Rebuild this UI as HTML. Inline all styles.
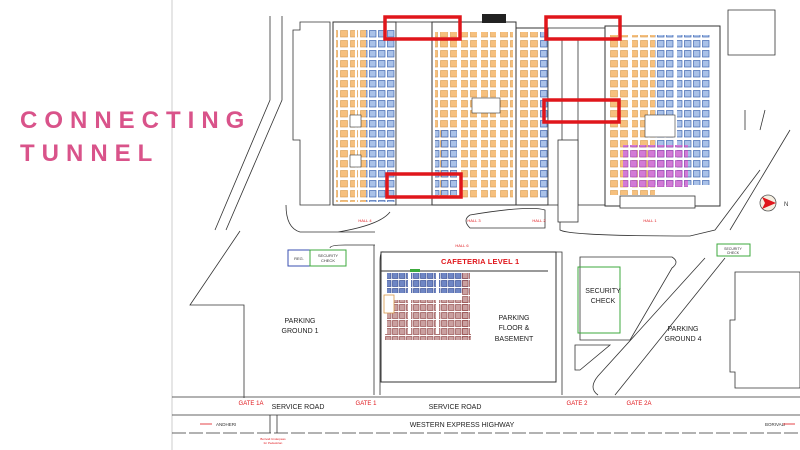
<!DOCTYPE html>
<html><head><meta charset="utf-8"><style>
body{margin:0;width:800px;height:450px;overflow:hidden;background:#fff}
svg{display:block}
</style></head><body>
<svg width="800" height="450" viewBox="0 0 800 450" xmlns="http://www.w3.org/2000/svg" font-family="Liberation Sans, sans-serif">
<defs>
<pattern id="or" width="10" height="10" patternUnits="userSpaceOnUse"><rect x="0.5" y="0.5" width="7" height="6.5" fill="#f6c07e" stroke="#d99a4a" stroke-width="0.6"/></pattern>
<pattern id="bl" width="9" height="10" patternUnits="userSpaceOnUse"><rect x="0.5" y="0.5" width="6.5" height="6.5" fill="#a9c1e8" stroke="#3f66b0" stroke-width="0.7"/></pattern>
<pattern id="mg" width="9" height="10" patternUnits="userSpaceOnUse"><rect x="0.5" y="0.5" width="6.5" height="6.5" fill="#d27ad6" stroke="#a040b0" stroke-width="0.6"/></pattern>
<pattern id="br" width="7" height="8" patternUnits="userSpaceOnUse"><rect x="0.5" y="0.5" width="5.5" height="6" fill="#c9a0a0" stroke="#8a3a3a" stroke-width="0.6"/></pattern>
<pattern id="nb" width="7" height="8" patternUnits="userSpaceOnUse"><rect x="0.5" y="0.5" width="5.5" height="6" fill="#6f86c4" stroke="#2a3f8a" stroke-width="0.6"/></pattern>
</defs>
<line x1="172" y1="0" x2="172" y2="450" stroke="#ccc" stroke-width="1"/>
<text x="20" y="128" font-size="24" fill="#d9538a" letter-spacing="7" font-weight="bold">CONNECTING</text>
<text x="20" y="161" font-size="24" fill="#d9538a" letter-spacing="7" font-weight="bold">TUNNEL</text>

<g fill="none" stroke="#333" stroke-width="0.8">
<polyline points="270,16 270,100 215,230"/>
<polyline points="282,16 282,100 226,230"/>
<polyline points="240,231 190,305 244,305 244,398"/>
<polygon points="300,22 330,22 330,205 300,205 300,140 293,140 293,30 300,30"/>
<path d="M286,205 Q286,228 300,232 L375,232 M338,232 Q380,225 390,212 M470,215 Q530,205 545,210 L545,228 L470,228 Q462,220 470,215"/>
<path d="M560,212 L560,230 Q570,236 690,236 L715,230 L760,170 M790,130 L730,230"/>
<path d="M330,248 Q330,245 345,245 L375,245 M374,245 L374,395"/>
<path d="M384,252 Q380,250 380,262 L380,395 M550,252 L562,252 Q562,260 562,395"/>
<polygon points="735,272 800,272 800,388 735,388 735,372 730,372 730,320 735,320"/>
<path d="M598,395 Q588,388 598,376 L705,258 M615,395 L725,258"/>
<path d="M575,345 L610,345 L580,370 L575,370 Z"/>
<path d="M580,257 L672,257 Q680,262 672,268 L630,340 L580,340 Z"/>
<polygon points="728,10 775,10 775,55 728,55"/>
<path d="M765,110 L760,130 M745,110 L745,130"/>
<line x1="172" y1="397" x2="800" y2="397"/>
<line x1="172" y1="415" x2="800" y2="415"/>
<line x1="172" y1="433" x2="800" y2="433" stroke-dasharray="14,3"/>
<line x1="270" y1="415" x2="270" y2="433"/><line x1="277" y1="415" x2="277" y2="433"/>
</g>

<!-- Hall 4 -->
<rect x="333" y="22" width="63" height="183" fill="#fff" stroke="#333" stroke-width="1"/>
<rect x="336" y="30" width="30" height="172" fill="url(#or)"/>
<rect x="366" y="30" width="29" height="172" fill="url(#bl)"/>
<rect x="355" y="30" width="2" height="172" fill="#fff"/>
<rect x="350" y="115" width="11" height="12" fill="#fff" stroke="#333" stroke-width="0.6"/>
<rect x="350" y="155" width="11" height="12" fill="#fff" stroke="#333" stroke-width="0.6"/>
<rect x="396" y="22" width="36" height="183" fill="#fff" stroke="#333" stroke-width="0.8"/>
<line x1="433" y1="40" x2="433" y2="125" stroke="#333" stroke-width="2"/>
<!-- Hall 3 -->
<rect x="432" y="22" width="84" height="183" fill="#fff" stroke="#333" stroke-width="1"/>
<rect x="435" y="32" width="78" height="168" fill="url(#or)"/>
<rect x="435" y="130" width="22" height="65" fill="url(#bl)"/>
<g fill="#fff"><rect x="457" y="32" width="4" height="168"/><rect x="477" y="32" width="4" height="168"/><rect x="496" y="32" width="4" height="168"/></g>
<rect x="472" y="98" width="28" height="15" fill="#fff" stroke="#333" stroke-width="0.6"/>
<rect x="482" y="14" width="24" height="9" fill="#222"/>
<!-- Hall 2 -->
<rect x="516" y="28" width="32" height="177" fill="#fff" stroke="#333" stroke-width="1"/>
<rect x="518" y="32" width="22" height="168" fill="url(#or)"/>
<rect x="540" y="32" width="8" height="168" fill="url(#bl)"/>
<rect x="548" y="28" width="57" height="177" fill="#fff" stroke="#333" stroke-width="0.8"/>
<line x1="562" y1="40" x2="562" y2="205" stroke="#333" stroke-width="0.8"/>
<line x1="578" y1="40" x2="578" y2="205" stroke="#333" stroke-width="0.8"/>
<rect x="558" y="140" width="20" height="82" fill="#fff" stroke="#333" stroke-width="0.8"/>
<!-- Hall 1 -->
<rect x="605" y="26" width="115" height="180" fill="#fff" stroke="#333" stroke-width="1"/>
<rect x="610" y="35" width="45" height="160" fill="url(#or)"/>
<rect x="655" y="35" width="55" height="150" fill="url(#bl)"/>
<g fill="#fff"><rect x="628" y="35" width="4" height="160"/><rect x="674" y="35" width="3" height="150"/></g>
<rect x="623" y="145" width="65" height="42" fill="url(#mg)"/>
<rect x="645" y="115" width="30" height="22" fill="#fff" stroke="#333" stroke-width="0.6"/>
<rect x="620" y="196" width="75" height="12" fill="#fff" stroke="#333" stroke-width="0.8"/>

<g fill="none" stroke="#e0161b" stroke-width="3.5">
<rect x="385" y="17" width="75" height="22"/>
<rect x="546" y="17" width="74" height="22"/>
<rect x="544" y="100" width="75" height="22"/>
<rect x="387" y="174" width="74" height="23"/>
</g>

<circle cx="768" cy="203" r="8" fill="#f5eee0" stroke="#555" stroke-width="0.8"/>
<polygon points="762,197 776,203 762,209 765,203" fill="#e0161b"/>
<text x="784" y="206" font-size="6" fill="#333">N</text>

<g font-size="4" fill="#e0161b" text-anchor="middle">
<text x="365" y="222">HALL 4</text><text x="474" y="222">HALL 3</text>
<text x="539" y="222">HALL 2</text><text x="650" y="222">HALL 1</text>
<text x="462" y="247">HALL 6</text>
</g>

<rect x="288" y="250" width="22" height="16" fill="#fff" stroke="#3a4fb0" stroke-width="1"/>
<rect x="310" y="250" width="36" height="16" fill="#fff" stroke="#3caa3c" stroke-width="1"/>
<text x="299" y="260" font-size="4" text-anchor="middle" fill="#333">REG.</text>
<text x="328" y="257" font-size="4" text-anchor="middle" fill="#333">SECURITY</text>
<text x="328" y="262" font-size="4" text-anchor="middle" fill="#333">CHECK</text>
<rect x="717" y="244" width="33" height="12" fill="#fff" stroke="#3caa3c" stroke-width="1"/>
<text x="733" y="250" font-size="3.5" text-anchor="middle" fill="#333">SECURITY</text>
<text x="733" y="254" font-size="3.5" text-anchor="middle" fill="#333">CHECK</text>
<rect x="578" y="267" width="42" height="66" fill="none" stroke="#3caa3c" stroke-width="1"/>
<text x="603" y="293" font-size="7" text-anchor="middle" fill="#222">SECURITY</text>
<text x="603" y="303" font-size="7" text-anchor="middle" fill="#222">CHECK</text>

<rect x="381" y="252" width="175" height="130" fill="#fff" stroke="#333" stroke-width="1"/>
<line x1="381" y1="271" x2="548" y2="271" stroke="#333" stroke-width="1"/>
<text x="441" y="264" font-size="7.5" fill="#e0161b" font-weight="bold" letter-spacing="0.2">CAFETERIA LEVEL 1</text>
<rect x="387" y="273" width="82" height="20" fill="url(#nb)"/>
<rect x="387" y="300" width="82" height="34" fill="url(#br)"/>
<rect x="385" y="334" width="86" height="6" fill="url(#br)"/>
<rect x="462" y="273" width="8" height="65" fill="url(#br)"/>
<g fill="#fff"><rect x="408" y="273" width="3" height="61"/><rect x="436" y="273" width="3" height="61"/></g>
<rect x="384" y="295" width="10" height="18" fill="#fff" stroke="#d99a4a" stroke-width="0.8"/>
<rect x="410" y="269" width="10" height="3" fill="#3caa3c"/>

<g font-size="7" fill="#222" text-anchor="middle">
<text x="300" y="323">PARKING</text><text x="300" y="333">GROUND 1</text>
<text x="514" y="320">PARKING</text><text x="514" y="330">FLOOR &amp;</text><text x="514" y="341">BASEMENT</text>
<text x="683" y="331">PARKING</text><text x="683" y="341">GROUND 4</text>
<text x="298" y="409">SERVICE ROAD</text><text x="455" y="409">SERVICE ROAD</text>
<text x="462" y="427">WESTERN EXPRESS HIGHWAY</text>
</g>
<g font-size="6" fill="#e0161b" text-anchor="middle">
<text x="251" y="405">GATE 1A</text><text x="366" y="405">GATE 1</text>
<text x="577" y="405">GATE 2</text><text x="639" y="405">GATE 2A</text>
</g>
<g font-size="4.5" fill="#333">
<text x="216" y="426">ANDHERI</text><text x="765" y="426">BORIVALI</text>
</g>
<line x1="200" y1="424" x2="212" y2="424" stroke="#e0161b" stroke-width="0.8"/>
<line x1="783" y1="424" x2="795" y2="424" stroke="#e0161b" stroke-width="0.8"/>
<text x="273" y="440" font-size="3" fill="#e0161b" text-anchor="middle">Borivali Underpass</text>
<text x="273" y="444" font-size="3" fill="#e0161b" text-anchor="middle">for Pedestrian</text>
</svg>
</body></html>
